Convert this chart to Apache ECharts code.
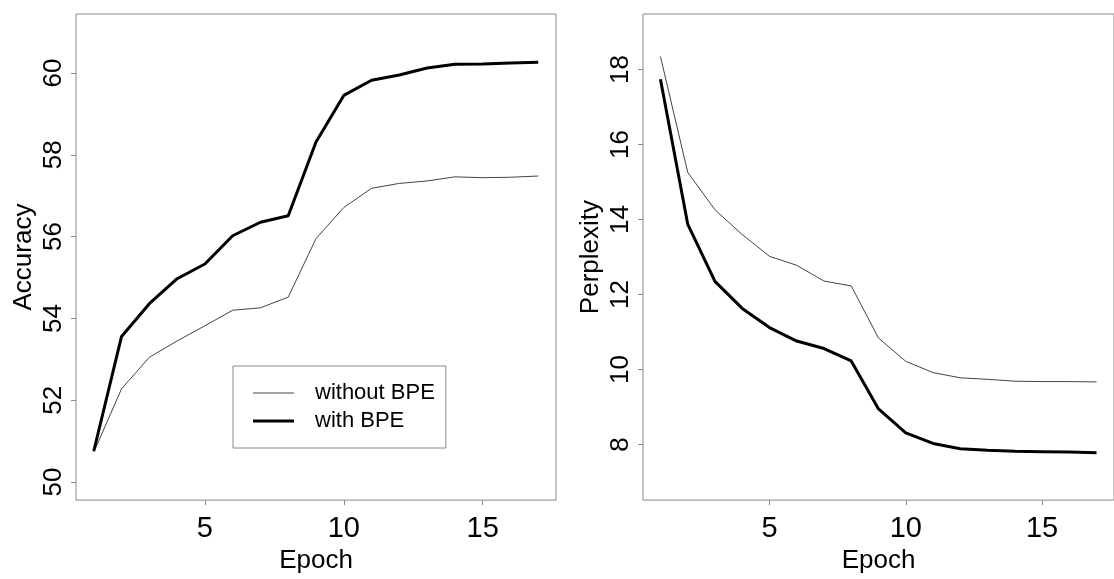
<!DOCTYPE html>
<html>
<head>
<meta charset="utf-8">
<script src="https://cdn.jsdelivr.net/npm/echarts@6/dist/echarts.min.js"></script>
<style>
  html, body { margin: 0; padding: 0; background: #fff; }
  #chart { width: 1114px; height: 579px; }
</style>
</head>
<body>
<div id="chart"></div>
<script>
// Epochs 1..17
var epochs = [1, 2, 3, 4, 5, 6, 7, 8, 9, 10, 11, 12, 13, 14, 15, 16, 17];

// Left panel: accuracy
var accWithout = [50.73, 52.28, 53.05, 53.45, 53.82, 54.20, 54.26, 54.52, 55.95, 56.71, 57.18, 57.30, 57.36, 57.46, 57.44, 57.45, 57.48];
var accWith    = [50.76, 53.56, 54.36, 54.97, 55.33, 56.02, 56.35, 56.51, 58.31, 59.45, 59.82, 59.95, 60.12, 60.21, 60.22, 60.24, 60.26];

// Right panel: perplexity
var pplWithout = [18.35, 15.26, 14.26, 13.60, 13.02, 12.78, 12.36, 12.23, 10.84, 10.22, 9.92, 9.78, 9.74, 9.69, 9.68, 9.68, 9.67];
var pplWith    = [17.74, 13.88, 12.35, 11.63, 11.12, 10.76, 10.56, 10.23, 8.95, 8.31, 8.03, 7.89, 7.85, 7.82, 7.81, 7.80, 7.78];

// Tick labels
var xTicks = [5, 10, 15];
var accTicks = [50, 52, 54, 56, 58, 60];
var pplTicks = [8, 10, 12, 14, 16, 18];

var seriesNames = ['without BPE', 'with BPE'];

var FONT = "'Liberation Sans', Arial, Helvetica, sans-serif";
var BOX = '#8a8a8a';
var THIN = '#444';

function pairs(ys) {
  var out = [];
  for (var i = 0; i < epochs.length; i++) out.push([epochs[i], ys[i]]);
  return out;
}

function xAxisFor(gridIndex) {
  return {
    type: 'value', gridIndex: gridIndex, min: 0.36, max: 17.64,
    name: 'Epoch', nameLocation: 'middle', nameGap: 45,
    nameTextStyle: { fontFamily: FONT, fontSize: 26, color: '#000' },
    axisLine: { show: false },
    splitLine: { show: false },
    axisTick: { show: true, inside: false, length: 5, customValues: xTicks, lineStyle: { color: BOX } },
    axisLabel: { customValues: xTicks, fontFamily: FONT, fontSize: 29, color: '#000', margin: 14 }
  };
}

function yAxisFor(gridIndex, name, lo, hi, ticks) {
  return {
    type: 'value', gridIndex: gridIndex, min: lo, max: hi,
    name: name, nameLocation: 'middle', nameGap: 39,
    nameTextStyle: { fontFamily: FONT, fontSize: 26, color: '#000' },
    axisLine: { show: false },
    splitLine: { show: false },
    axisTick: { show: true, inside: false, length: 5, customValues: ticks, lineStyle: { color: BOX } },
    axisLabel: { customValues: ticks, rotate: 90, fontFamily: FONT, fontSize: 26, color: '#000', margin: 9 }
  };
}

function line(name, data, xi, yi, thick) {
  return {
    name: name, type: 'line', xAxisIndex: xi, yAxisIndex: yi,
    data: pairs(data), symbol: 'none', animation: false,
    lineStyle: thick ? { color: '#000', width: 3 } : { color: THIN, width: 1 },
    itemStyle: { color: thick ? '#000' : THIN }
  };
}

var chart = echarts.init(document.getElementById('chart'), null, { renderer: 'canvas' });
chart.setOption({
  animation: false,
  backgroundColor: '#fff',
  grid: [
    { left: 76, top: 14, width: 480, height: 496, show: true, borderColor: BOX, borderWidth: 1 },
    { left: 643, top: 14, width: 480, height: 496, show: true, borderColor: BOX, borderWidth: 1 }
  ],
  legend: {
    data: [
      { name: seriesNames[0], icon: 'path://M0,0 H41 V1 H0 Z' },
      { name: seriesNames[1], icon: 'path://M0,0 H41 V3 H0 Z' }
    ],
    orient: 'vertical', left: 233, top: 366,
    padding: [16, 11, 16, 20], itemGap: 6, itemWidth: 41, itemHeight: 14,
    symbolKeepAspect: true,
    borderColor: BOX, borderWidth: 1, selectedMode: false,
    textStyle: { fontFamily: FONT, fontSize: 22, color: '#000', padding: [0, 0, 0, 16] }
  },
  xAxis: [xAxisFor(0), xAxisFor(1)],
  yAxis: [
    yAxisFor(0, 'Accuracy', 49.56, 61.44, accTicks),
    yAxisFor(1, 'Perplexity', 6.52, 19.48, pplTicks)
  ],
  series: [
    line(seriesNames[0], accWithout, 0, 0, false),
    line(seriesNames[1], accWith, 0, 0, true),
    line(seriesNames[0], pplWithout, 1, 1, false),
    line(seriesNames[1], pplWith, 1, 1, true)
  ]
});
</script>
</body>
</html>
